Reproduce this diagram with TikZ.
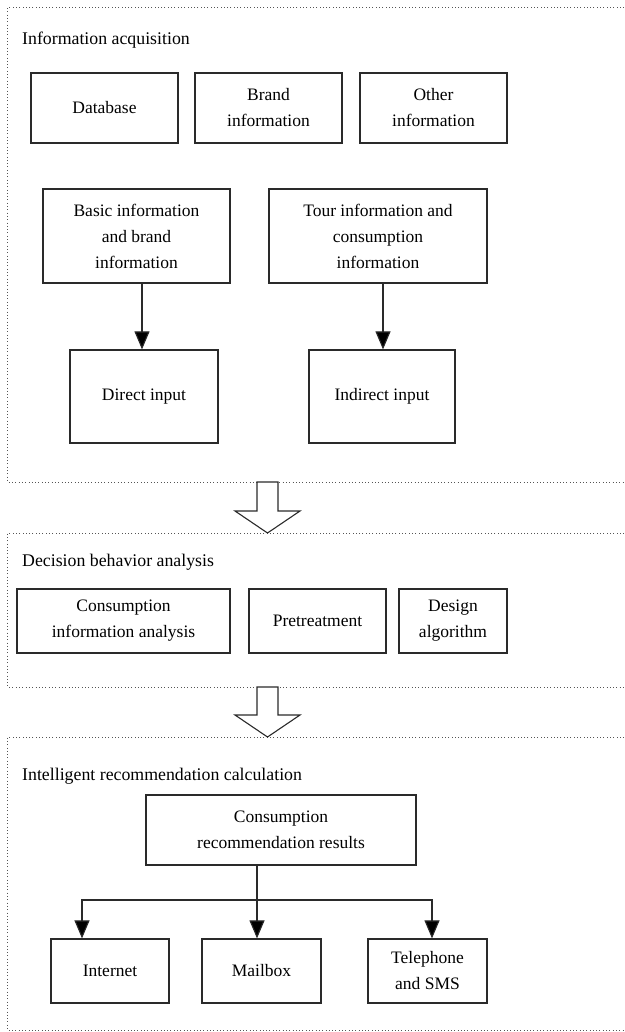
\documentclass[tikz,border=0pt]{standalone}
\usepackage{fontspec}
\setmainfont{Liberation Serif}
\usetikzlibrary{arrows.meta,calc}
\definecolor{boxline}{HTML}{2A2A2A}
\definecolor{dotline}{HTML}{555555}
\begin{document}
\begin{tikzpicture}[x=1pt,y=1pt,
  box/.style={draw=boxline,line width=1.2pt,align=center,inner sep=2pt,
    font=\fontsize{17.5}{26}\selectfont,text=black},
  ttl/.style={anchor=base west,inner sep=0pt,font=\fontsize{17.8}{22}\selectfont},
  frame/.style={draw=dotline,line width=0.9pt,dash pattern=on 0.9pt off 2.4pt},
  arr/.style={draw=boxline,line width=1.1pt,-{Triangle[length=18pt,width=15pt,fill=black]}},
  hollow/.style={draw=boxline,line width=1.1pt,fill=white,line join=miter}]
\useasboundingbox (0,0) rectangle (624,-1032);
% frames (open to the right)
\draw[frame] (624,-7.5) -- (7.5,-7.5) -- (7.5,-482) -- (624,-482);
\draw[frame] (624,-533) -- (7.5,-533) -- (7.5,-687) -- (624,-687);
\draw[frame] (624,-737) -- (7.5,-737) -- (7.5,-1030) -- (624,-1030);
% titles
\node[ttl] (t1) at (22,-45) {Information acquisition};
\node[ttl] (t2) at (22,-566.5) {Decision behavior analysis};
\node[ttl] (t3) at (22,-780) {Intelligent recommendation calculation};
% section 1
\node[box,minimum width=147,minimum height=70] (db) at (104.5,-108) {Database};
\node[box,minimum width=147,minimum height=70] (brand) at (268.5,-108) {Brand\\information};
\node[box,minimum width=147,minimum height=70] (other) at (433.5,-108) {Other\\information};
\node[box,minimum width=187,minimum height=94] (basic) at (136.5,-236) {Basic information\\and brand\\information};
\node[box,minimum width=218,minimum height=94] (tour) at (378,-236) {Tour information and\\consumption\\information};
\node[box,minimum width=148,minimum height=93] (direct) at (144,-396.5) {Direct input};
\node[box,minimum width=146,minimum height=93] (indirect) at (382,-396.5) {Indirect input};
\coordinate (ax1) at (142,0);
\coordinate (ax2) at (383,0);
\draw[arr] (basic.south -| ax1) -- (direct.north -| ax1);
\draw[arr] (tour.south -| ax2) -- (indirect.north -| ax2);
% hollow arrows
\draw[hollow] (257,-482) -- (257,-511) -- (235,-511) -- (267.5,-533) -- (300,-511) -- (278,-511) -- (278,-482) -- cycle;
\draw[hollow] (257,-687) -- (257,-715) -- (235,-715) -- (267.5,-737) -- (300,-715) -- (278,-715) -- (278,-687) -- cycle;
% section 2
\node[box,minimum width=213,minimum height=64] (cia) at (123.5,-621) {Consumption\\information analysis};
\node[box,minimum width=137,minimum height=64] (pre) at (317.5,-621) {Pretreatment};
\node[box,minimum width=108,minimum height=64] (design) at (453,-621) {Design\\algorithm};
% section 3
\node[box,minimum width=270,minimum height=70] (crr) at (281,-830) {Consumption\\recommendation results};
\node[box,minimum width=118,minimum height=64] (internet) at (110,-971) {Internet};
\node[box,minimum width=119,minimum height=64] (mailbox) at (261.5,-971) {Mailbox};
\node[box,minimum width=119,minimum height=64] (tel) at (427.5,-971) {Telephone\\and SMS};
\coordinate (bx) at (257,-900);
\coordinate (ix) at (82,0);
\coordinate (tx) at (432,0);
\draw[draw=boxline,line width=1.1pt] (crr.south -| bx) -- (bx);
\draw[arr] (bx) -- (mailbox.north -| bx);
\draw[arr] (bx) -| (internet.north -| ix);
\draw[arr] (bx) -| (tel.north -| tx);
\end{tikzpicture}
\end{document}
